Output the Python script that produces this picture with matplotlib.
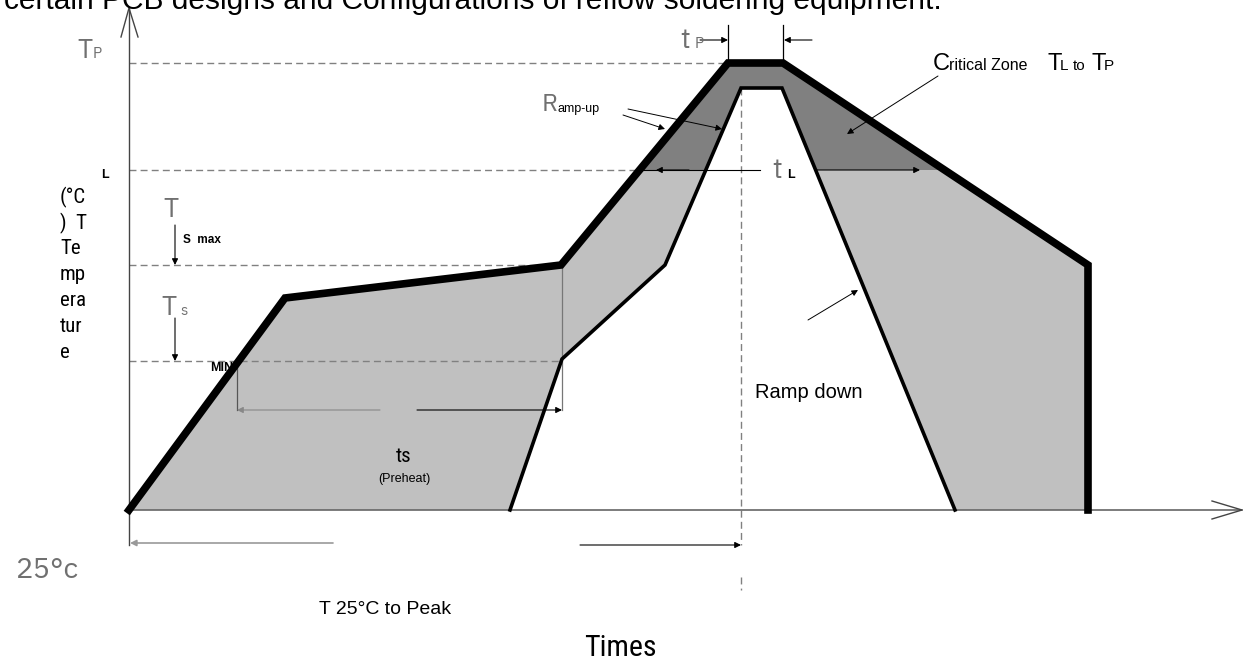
import matplotlib.pyplot as plt
from matplotlib.patches import Rectangle

####################################################################################################
# reflow profile (time units from the origin, temperature units above the 25 C baseline)

time_outer = [0, 156, 432, 599, 654, 959, 959]
temp_outer = [0, 212, 245, 447, 447, 245, 0]

time_inner = [381, 433, 536, 612, 653, 826]
temp_inner = [0, 151, 245, 422, 422, 0]

tp_level = 447
tl_level = 340
ts_max = 245
ts_min = 149

tp_start, tp_end = 599, 654
peak_time = 612
ts_start, ts_end = 108, 433

y_label_lines = ['(°C', ')  T', 'Te', 'mp', 'era', 'tur', 'e']

####################################################################################################

narrow = ['Roboto Condensed', 'IBM Plex Sans Condensed', 'DejaVu Sans']
plain = ['Liberation Sans', 'DejaVu Sans']
thin = dict(family=['IBM Plex Sans', 'DejaVu Sans'], color='#707070', fontweight=200)
dash_kw = dict(color='#808080', lw=1, ls=(0, (5, 3)))

fig = plt.figure(figsize=(12.5, 6.66), dpi=100)
ax = fig.add_axes([0, 0, 1, 1])
ax.set_xlim(-129, 1121)
ax.set_ylim(-156, 510)
ax.axis('off')

# fills: whole band, critical zone above T_L, white inside the inner profile
ax.fill(time_outer, temp_outer, color='#c0c0c0', lw=0, zorder=1)
dark = ax.fill(time_outer, temp_outer, color='#808080', lw=0, zorder=1.1)[0]
dark.set_clip_path(Rectangle((0, tl_level), 1200, 300, transform=ax.transData))
ax.fill(time_inner, temp_inner, color='white', lw=0, zorder=1.2)

# guide lines
ax.plot([0, tp_start], [tp_level, tp_level], zorder=2, **dash_kw)
ax.plot([0, 511], [tl_level, tl_level], zorder=2, **dash_kw)
ax.plot([0, ts_end], [ts_max, ts_max], zorder=2, **dash_kw)
ax.plot([0, ts_end], [ts_min, ts_min], zorder=2, **dash_kw)
ax.plot([peak_time, peak_time], [422, -35], zorder=2, **dash_kw)
ax.plot([peak_time, peak_time], [-67, -80], zorder=2, **dash_kw)

# profile lines
ax.plot(time_outer, temp_outer, color='black', lw=5.5, solid_joinstyle='miter', zorder=3)
ax.plot(time_inner, temp_inner, color='black', lw=2.6, solid_joinstyle='miter', zorder=3)

# axes with open arrow heads
ax.plot([0, 0], [-35, 502], color='#444', lw=1, zorder=2)
ax.plot([-8, 0, 9], [473, 502, 473], color='#444', lw=1, zorder=2)
ax.plot([0, 1113], [0, 0], color='#666', lw=1.2, zorder=2)
ax.plot([1083, 1113, 1083], [9, 0, -9], color='#444', lw=1, zorder=2)

arrow = dict(arrowstyle='-|>', color='black', lw=0.8, mutation_scale=9, shrinkA=0, shrinkB=0)
gray_arrow = dict(arrow, color='#888')

# t_P
ax.plot([tp_start, tp_start], [448, 485], color='black', lw=0.9)
ax.plot([tp_end, tp_end], [448, 485], color='black', lw=0.9)
ax.annotate('', xy=(tp_start, 470), xytext=(571, 470), arrowprops=arrow)
ax.annotate('', xy=(tp_end + 1, 470), xytext=(683, 470), arrowprops=arrow)
ax.text(551, 462, 't', fontsize=20, ha='left', va='baseline', **thin)
ax.text(566, 462, 'P', fontsize=11, ha='left', va='baseline', **thin)

# t_L
ax.plot([511, 631], [tl_level, tl_level], color='black', lw=0.8, zorder=2)
ax.annotate('', xy=(527, tl_level), xytext=(560, tl_level), arrowprops=arrow)
ax.annotate('', xy=(791, tl_level), xytext=(686, tl_level), arrowprops=arrow)
ax.text(643, 332, 't', fontsize=20, ha='left', va='baseline', **thin)
ax.text(658, 332, 'L', fontsize=9, fontweight='bold', family=plain, ha='left', va='baseline')

# T_P label
ax.text(-52, 452, 'T', fontsize=19, ha='left', va='baseline', **thin)
ax.text(-36, 452, 'P', fontsize=11, ha='left', va='baseline', **thin)

# T_S max / min
ax.text(34, 293, 'T', fontsize=19, ha='left', va='baseline', **thin)
ax.annotate('', xy=(46, ts_max), xytext=(46, 285), arrowprops=arrow)
ax.text(54, 267, 'S  max', fontsize=8.5, fontweight='bold', family=plain, ha='left', va='baseline')
ax.text(32, 195, 'T', fontsize=19, ha='left', va='baseline', **thin)
ax.text(51, 195, 's', fontsize=11, ha='left', va='baseline', **thin)
ax.annotate('', xy=(46, ts_min), xytext=(46, 192), arrowprops=arrow)
ax.text(104, 142, 'MIN', fontsize=9, fontweight='bold', family=plain, ha='right', va='center')

# t_s preheat bracket
ax.plot([ts_start, ts_start], [ts_min, 100], color='#555', lw=0.9, zorder=2)
ax.plot([ts_end, ts_end], [ts_max, 100], color='#777', lw=0.9, zorder=2)
ax.annotate('', xy=(ts_start, 100), xytext=(251, 100), arrowprops=gray_arrow)
ax.annotate('', xy=(ts_end, 100), xytext=(288, 100), arrowprops=arrow)
ax.text(275, 54, 'ts', fontsize=15, family=narrow, ha='center', va='center')
ax.text(275, 31, '(Preheat)', fontsize=9, family=plain, ha='center', va='center')

# ramp-up
ax.text(413, 399, 'R', fontsize=18, ha='left', va='baseline', **thin)
ax.text(429, 398, 'amp-up', fontsize=9, family=plain, ha='left', va='baseline')
ax.annotate('', xy=(593, 381), xytext=(499, 401), arrowprops=dict(arrow, lw=0.7))
ax.annotate('', xy=(536, 381), xytext=(494, 395), arrowprops=dict(arrow, lw=0.7))

# critical zone
ax.text(804, 440, 'C', fontsize=17, family=plain, ha='left', va='baseline')
ax.text(820, 440, 'ritical Zone', fontsize=11.5, family=plain, ha='left', va='baseline')
ax.text(919, 440, 'T', fontsize=17, family=plain, ha='left', va='baseline')
ax.text(931, 440, 'L', fontsize=11, family=plain, ha='left', va='baseline')
ax.text(944, 440, 'to', fontsize=11, family=plain, ha='left', va='baseline')
ax.text(963, 440, 'T', fontsize=17, family=plain, ha='left', va='baseline')
ax.text(975, 440, 'P', fontsize=11, family=plain, ha='left', va='baseline')
ax.annotate('', xy=(718, 376), xytext=(809, 434), arrowprops=dict(arrow, lw=0.7))

# ramp-down
ax.annotate('', xy=(729, 220), xytext=(679, 190), arrowprops=dict(arrow, lw=0.7))
ax.text(626, 117, 'Ramp down', fontsize=14.5, family=plain, ha='left', va='center')

# T 25 C to peak
ax.annotate('', xy=(1, -33), xytext=(204, -33), arrowprops=dict(gray_arrow, color='#999', lw=1.2))
ax.annotate('', xy=(peak_time, -35), xytext=(451, -35), arrowprops=arrow)
ax.text(256, -99, 'T 25°C to Peak', fontsize=14, family=plain, ha='center', va='center')
ax.text(-114, -61, '25°c', fontsize=21, ha='left', va='center', **thin)
ax.text(491, -138, 'Times', fontsize=21.5, family=narrow, ha='center', va='center')

# rotated-looking y label, one fragment per line
ax.text(-28, 335, 'L', fontsize=9, fontweight='bold', family=plain, ha='left', va='center')
for i, line in enumerate(y_label_lines):
    ax.text(-69, 313 - 26 * i, line, fontsize=15, family=narrow, ha='left', va='center')

# clipped caption line at the very top
ax.text(-125, 501, 'certain PCB designs and Configurations of reflow soldering equipment.',
        fontsize=21.5, family=plain, ha='left', va='baseline')

fig.savefig('out.png', dpi=100)
